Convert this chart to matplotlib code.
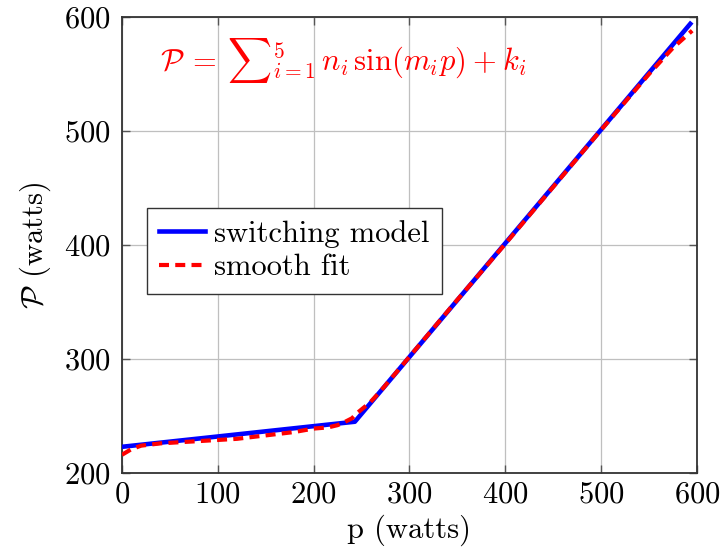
import numpy as np
import matplotlib
matplotlib.use("Agg")
import matplotlib.pyplot as plt

plt.rcParams['font.family'] = 'serif'
plt.rcParams['font.serif'] = ['cmr10', 'DejaVu Serif']
plt.rcParams['mathtext.fontset'] = 'cm'
plt.rcParams['axes.formatter.use_mathtext'] = True

# switching model (piecewise linear)
p_switch = [0, 243, 593]
P_switch = [223, 245, 594]

# smooth sinusoidal fit
p_fit = [0, 10, 20, 40, 60, 80, 100, 120, 140, 160, 180, 200, 215, 225, 233, 240,
         246, 259, 270, 285, 300, 350, 400, 450, 500, 550, 575, 595]
P_fit = [216, 221, 224, 226, 227, 228, 229, 230, 232, 234, 236, 239, 240, 242, 245, 248,
         253, 262, 272, 287, 302, 352, 401, 451, 501, 550, 573, 588]

xticks = [0, 100, 200, 300, 400, 500, 600]
yticks = [200, 300, 400, 500, 600]

fs = 22

fig = plt.figure(figsize=(7.23, 5.59), dpi=100)
ax = fig.add_axes([0.1687, 0.1538, 0.7953, 0.8158])

ax.plot(p_switch, P_switch, color='blue', lw=3.3, label='switching model', zorder=3)
ax.plot(p_fit, P_fit, color='red', lw=3.0, dashes=[2.4, 1.5], label='smooth fit', zorder=4)

ax.set_xlim(0, 600)
ax.set_ylim(200, 600)
ax.set_xticks(xticks)
ax.set_yticks(yticks)
ax.grid(True, color='#bfbfbf', lw=0.9)
ax.set_axisbelow(True)

ax.tick_params(direction='in', length=6, width=1.0, color='#555555',
               top=True, right=True, labelsize=fs)
ax.tick_params(axis='y', pad=8)
ax.tick_params(axis='x', pad=6)
for s in ax.spines.values():
    s.set_color('#333333')
    s.set_linewidth(1.3)

ax.set_xlabel('p (watts)', fontsize=fs, labelpad=4)
ax.set_ylabel(r'$\mathcal{P}$ (watts)', fontsize=fs, labelpad=8)

ax.text(40, 562, r'$\mathcal{P}\:=\:{\sum}_{i=1}^{5}\,n_i \,\sin(m_i p)\:+\:k_i$',
        color='red', fontsize=fs, va='center', ha='left')

leg = ax.legend(loc='upper left', bbox_to_anchor=(0.043, 0.582), fontsize=fs,
                frameon=True, fancybox=False, framealpha=1, edgecolor='#333333',
                handlelength=1.5, handletextpad=0.3, borderpad=0.4, labelspacing=0.2,
                borderaxespad=0)
leg.get_frame().set_linewidth(1.0)

fig.savefig('out.png', dpi=100)
